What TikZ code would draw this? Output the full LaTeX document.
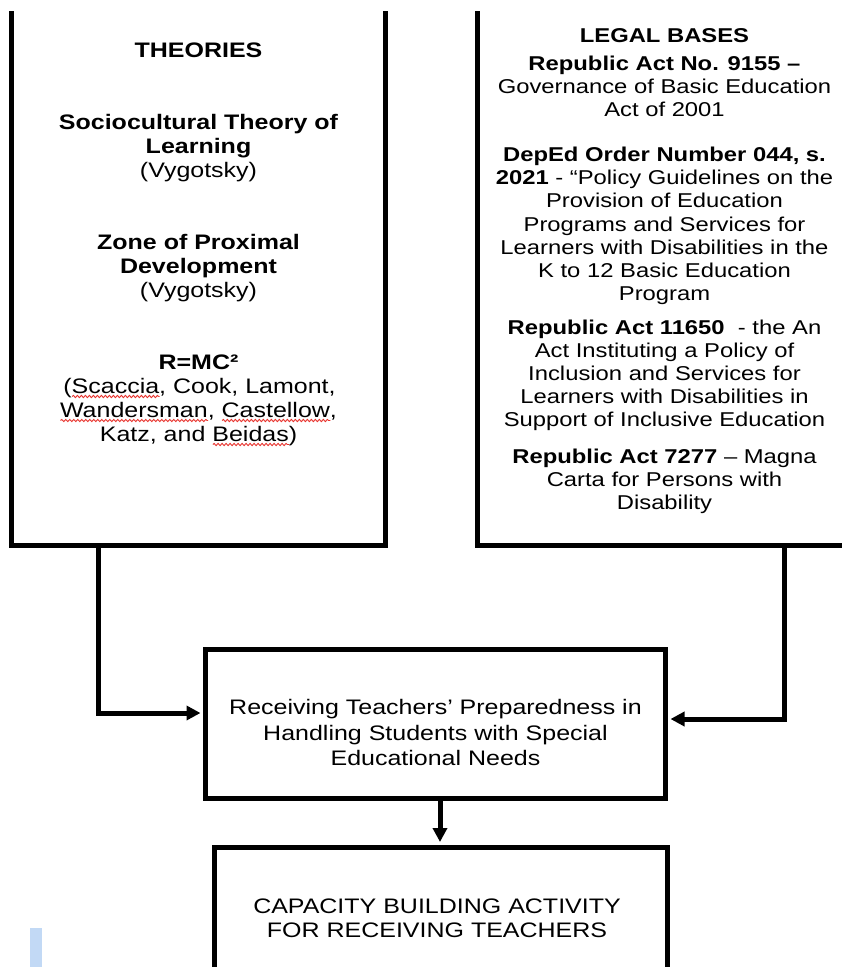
\documentclass[tikz,border=0pt]{standalone}
\usepackage{fontspec}
\setmainfont{Liberation Sans}[FakeStretch=1.19]
\usetikzlibrary{arrows.meta,decorations.pathmorphing}
\definecolor{cursorblue}{HTML}{C2D9F5}
\definecolor{squig}{HTML}{E8332E}
\newsavebox\spellbox
\newcommand\spellerr[1]{\begingroup\sbox\spellbox{#1}\makebox[0pt][l]{\tikz[baseline=0pt]\draw[squig, line width=0.9pt, decorate, decoration={snake, amplitude=1.1pt, segment length=4pt}] (0pt,-3.5pt) -- (\wd\spellbox,-3.5pt);}\usebox\spellbox\endgroup}
\begin{document}
\begin{tikzpicture}[x=1pt,y=-1pt,
  frame/.style={draw=black, line width=5pt, inner sep=0pt},
  tl/.style={anchor=base, inner sep=0pt, font=\fontsize{21}{24}\selectfont},
  tr/.style={anchor=base, inner sep=0pt, font=\fontsize{20}{23}\selectfont},
  conn/.style={line width=5pt, -{Triangle[length=14pt,width=14pt]}, shorten >=2.5pt}]
\useasboundingbox (0,0) rectangle (842,967);
\fill[white] (0,0) rectangle (842,967);
\begin{scope}
  \clip (0,11) rectangle (842,967);
  \node[frame, minimum width=374pt, minimum height=574pt] (lbox) at (198.5,258) {};
  \node[frame, minimum width=374pt, minimum height=574pt] (rbox) at (664.5,258) {};
  \node[frame, minimum width=452.5pt, minimum height=153pt] (bot) at (440.75,923.5) {};
\end{scope}
\node[frame, minimum width=460pt, minimum height=148.5pt] (mid) at (435.5,723.75) {};
\fill[cursorblue] (29.5,928) rectangle (42,967);

% left box text
\node[tl] (th) at (198.5,57.5) {\bfseries THEORIES};
\node[tl] (sc1) at (198.5,129.5) {\bfseries Sociocultural Theory of};
\node[tl] (sc2) at (198.5,153.5) {\bfseries Learning};
\node[tl] (sc3) at (198.5,177.5) {(Vygotsky)};
\node[tl] (zp1) at (198.5,249.5) {\bfseries Zone of Proximal};
\node[tl] (zp2) at (198.5,273.5) {\bfseries Development};
\node[tl] (zp3) at (198.5,297.5) {(Vygotsky)};
\node[tl] (rm1) at (198.5,369.5) {\bfseries R=MC²};
\node[tl] (rm2) at (199.5,393) {(\spellerr{Scaccia}, Cook, Lamont,};
\node[tl] (rm3) at (198.5,417) {\spellerr{Wandersman}, \spellerr{Castellow},};
\node[tl] (rm4) at (198.5,441) {Katz, and \spellerr{Beidas})};

% right box text
\node[tr] (lb) at (664.5,42.5) {\bfseries LEGAL BASES};
\node[tr] (ra1) at (664.5,70) {\bfseries Republic Act No. 9155 –};
\node[tr] (ra2) at (664.5,93) {Governance of Basic Education};
\node[tr] (ra3) at (664.5,116) {Act of 2001};
\node[tr] (do1) at (664.5,161.5) {\bfseries DepEd Order Number 044, s.};
\node[tr] (do2) at (664.5,184.5) {{\bfseries 2021} - “Policy Guidelines on the};
\node[tr] (do3) at (664.5,207.5) {Provision of Education};
\node[tr] (do4) at (664.5,231) {Programs and Services for};
\node[tr] (do5) at (664.5,254) {Learners with Disabilities in the};
\node[tr] (do6) at (664.5,277) {K to 12 Basic Education};
\node[tr] (do7) at (664.5,300) {Program};
\node[tr] (rb1) at (664.5,334.5) {{\bfseries Republic Act 11650}\ \ - the An};
\node[tr] (rb2) at (664.5,357.5) {Act Instituting a Policy of};
\node[tr] (rb3) at (664.5,380.5) {Inclusion and Services for};
\node[tr] (rb4) at (664.5,403.5) {Learners with Disabilities in};
\node[tr] (rb5) at (664.5,426.5) {Support of Inclusive Education};
\node[tr] (rc1) at (664.5,463.5) {{\bfseries Republic Act 7277} – Magna};
\node[tr] (rc2) at (664.5,486.5) {Carta for Persons with};
\node[tr] (rc3) at (664.5,509.5) {Disability};

% middle box text
\node[tl] (m1) at (435.5,714.5) {Receiving Teachers’ Preparedness in};
\node[tl] (m2) at (435.5,740) {Handling Students with Special};
\node[tl] (m3) at (435.5,765.5) {Educational Needs};

% bottom box text
\node[tl] (b1) at (437,913) {CAPACITY BUILDING ACTIVITY};
\node[tl] (b2) at (437,937.5) {FOR RECEIVING TEACHERS};

% connectors
\coordinate (lturn) at (98.5,713);
\coordinate (rturn) at (784,719);
\coordinate (dn) at (440,0);
\draw[conn] (lbox.south -| lturn) |- (mid.west |- lturn);
\draw[conn] (rbox.south -| rturn) |- (mid.east |- rturn);
\draw[conn] (mid.south -| dn) -- (bot.north -| dn);
\end{tikzpicture}
\end{document}
